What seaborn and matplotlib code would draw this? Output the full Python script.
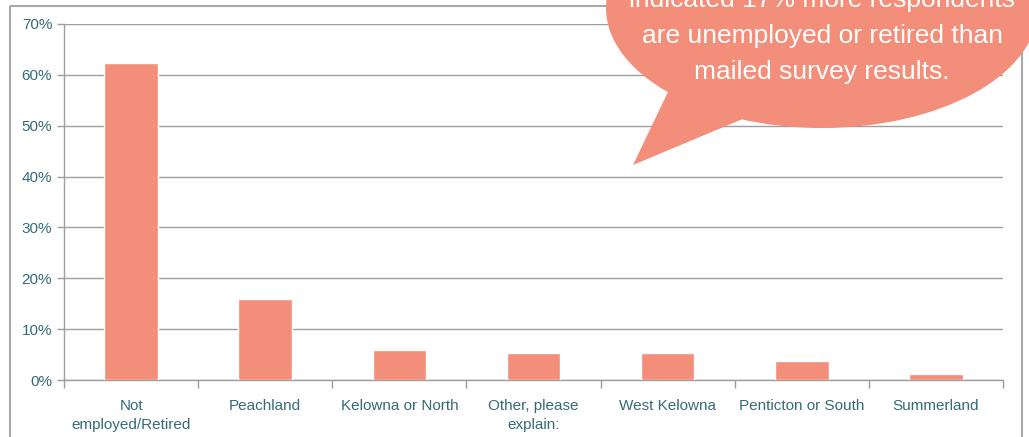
import numpy as np
import pandas as pd
import matplotlib
matplotlib.use('Agg')
import matplotlib.pyplot as plt
import seaborn as sns
from matplotlib.patches import Ellipse, Polygon, Rectangle
from matplotlib.ticker import FuncFormatter, MultipleLocator

categories = ['Not\nemployed/Retired', 'Peachland', 'Kelowna or North',
              'Other, please\nexplain:', 'West Kelowna', 'Penticton or South', 'Summerland']
shares = [62.3, 15.9, 5.9, 5.3, 5.3, 3.7, 1.2]
callout_lines = ['indicated 17% more respondents',
                 'are unemployed or retired than',
                 'mailed survey results.']

bar_color = '#F28E79'
label_color = '#356B77'
grid_color = '#9E9E9E'

sns.set_style('white')
plt.rcParams['font.family'] = ['Liberation Sans', 'DejaVu Sans']

df = pd.DataFrame({'cat': categories, 'share': shares})

W, H = 1029, 437
fig = plt.figure(figsize=(W / 100, H / 100), dpi=100)
ax = fig.add_axes([64 / W, (H - 380) / H, (1003 - 64) / W, (380 - 24) / H])

sns.barplot(data=df, x='cat', y='share', color=bar_color, width=0.4,
            saturation=1, ax=ax, zorder=3)

ax.set_ylim(0, 70)
ax.set_xlim(-0.5, len(categories) - 0.5)
ax.yaxis.set_major_locator(MultipleLocator(10))
ax.yaxis.set_major_formatter(FuncFormatter(lambda v, p: f'{v:.0f}%'))
ax.grid(axis='y', color=grid_color, linewidth=1)
ax.set_axisbelow(True)
ax.set_xlabel('')
ax.set_ylabel('')

for s in ['top', 'right']:
    ax.spines[s].set_visible(False)
for s in ['left', 'bottom']:
    ax.spines[s].set_color(grid_color)
    ax.spines[s].set_linewidth(1)

ax.tick_params(axis='y', colors=grid_color, labelcolor=label_color, labelsize=11,
               length=5, width=1, direction='out', left=True)
ax.tick_params(axis='x', which='major', length=0, labelcolor=label_color,
               labelsize=11, pad=14)
for t in ax.get_xticklabels():
    t.set_linespacing(1.45)
ax.set_xticks(np.arange(-0.5, len(categories) + 0.5, 1), minor=True)
ax.tick_params(axis='x', which='minor', length=6, width=1, color=grid_color,
               bottom=True, direction='out')

# overlay in pixel coordinates for the frame and the speech bubble
ov = fig.add_axes([0, 0, 1, 1], zorder=5)
ov.set_xlim(0, W)
ov.set_ylim(H, 0)
ov.axis('off')
ov.patch.set_alpha(0)

ov.add_patch(Rectangle((10, 6), 1012, 460, fill=False, edgecolor='#A8A8A8', linewidth=1.5))
ov.add_patch(Ellipse((822, 8), 432, 240, facecolor=bar_color, edgecolor='none'))
ov.add_patch(Polygon([(668, 92), (633, 165), (745, 118)], closed=True,
                     facecolor=bar_color, edgecolor='none'))

for i, line in enumerate(callout_lines):
    ov.text(822, 0 + 36 * i, line, color='white', fontsize=19,
            ha='center', va='center')

fig.savefig('out.png', dpi=100)
